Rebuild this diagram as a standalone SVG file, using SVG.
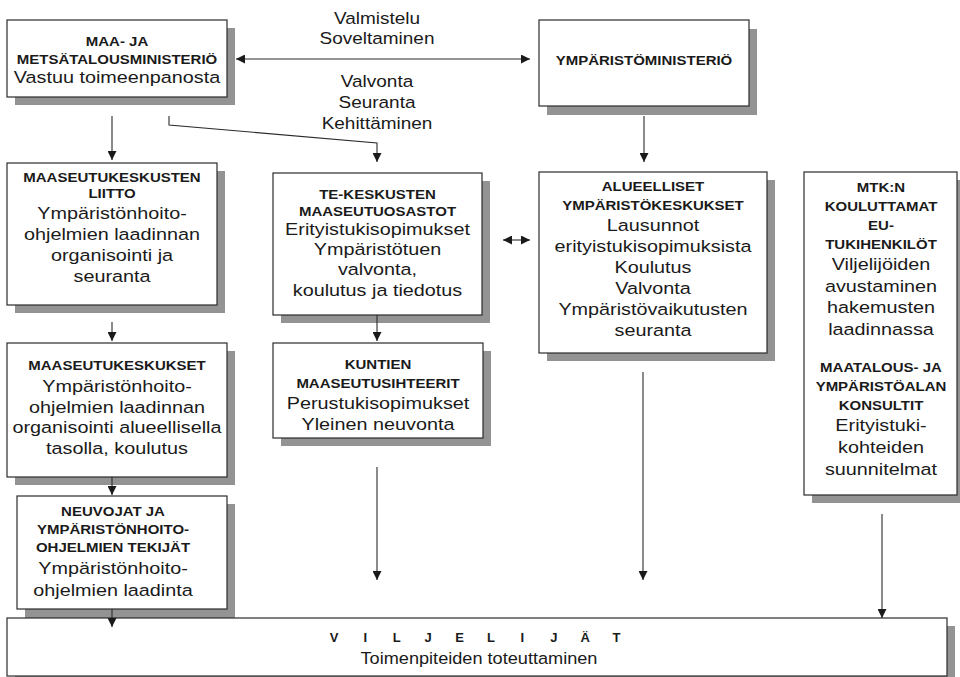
<svg xmlns="http://www.w3.org/2000/svg" width="960" height="677" viewBox="0 0 960 677">
<style>
.box{fill:#fff;stroke:#2b2b2b;stroke-width:1.2}
.sh{fill:#939393}
.b{font-family:"Liberation Sans",Arial,sans-serif;font-weight:bold;font-size:12.5px;fill:#1a1a1a;text-anchor:middle}
.r{font-family:"Liberation Sans",Arial,sans-serif;font-size:16.5px;fill:#1a1a1a;text-anchor:middle}
.c{fill:none;stroke:#2b2b2b;stroke-width:1.1}
.a{marker-end:url(#ah)}
.d{marker-start:url(#ah);marker-end:url(#ah)}
</style>
<defs>
<marker id="ah" viewBox="0 0 10 10" refX="10" refY="5" markerWidth="9" markerHeight="9" markerUnits="userSpaceOnUse" orient="auto-start-reverse">
<path d="M0,0 L10,5 L0,10 z" fill="#1a1a1a"/>
</marker>
</defs>
<rect width="960" height="677" fill="#fff"/>

<g id="mmm">
<rect class="sh" x="15" y="28" width="220" height="77"/>
<rect class="box" x="7" y="20" width="220" height="77"/>
<g transform="translate(117 0) scale(1.2 1)">
<text class="b" x="0" y="46.5">MAA- JA</text>
<text class="b" x="0" y="64">METSÄTALOUSMINISTERIÖ</text>
<text class="r" x="0" y="83">Vastuu toimeenpanosta</text>
</g>
</g>

<g id="ym">
<rect class="sh" x="547" y="29" width="210" height="86"/>
<rect class="box" x="539" y="20" width="210" height="86"/>
<g transform="translate(644 0) scale(1.2 1)">
<text class="b" x="0" y="65.5">YMPÄRISTÖMINISTERIÖ</text>
</g>
</g>

<g id="liitto">
<rect class="sh" x="15" y="171" width="210" height="142"/>
<rect class="box" x="7" y="163" width="210" height="142"/>
<g transform="translate(112 0) scale(1.2 1)">
<text class="b" x="0" y="182">MAASEUTUKESKUSTEN</text>
<text class="b" x="0" y="198.5">LIITTO</text>
<text class="r" x="0" y="219">Ympäristönhoito-</text>
<text class="r" x="0" y="240">ohjelmien laadinnan</text>
<text class="r" x="0" y="261">organisointi ja</text>
<text class="r" x="0" y="282">seuranta</text>
</g>
</g>

<g id="te">
<rect class="sh" x="281" y="181" width="209" height="142"/>
<rect class="box" x="273" y="173" width="209" height="142"/>
<g transform="translate(377.5 0) scale(1.2 1)">
<text class="b" x="0" y="199">TE-KESKUSTEN</text>
<text class="b" x="0" y="216">MAASEUTUOSASTOT</text>
<text class="r" x="0" y="235">Erityistukisopimukset</text>
<text class="r" x="0" y="255.5">Ympäristötuen</text>
<text class="r" x="0" y="275.5">valvonta,</text>
<text class="r" x="0" y="296.5">koulutus ja tiedotus</text>
</g>
</g>

<g id="alueelliset">
<rect class="sh" x="547" y="180" width="228" height="181"/>
<rect class="box" x="539" y="172" width="228" height="181"/>
<g transform="translate(653 0) scale(1.2 1)">
<text class="b" x="0" y="191.5">ALUEELLISET</text>
<text class="b" x="0" y="210">YMPÄRISTÖKESKUKSET</text>
<text class="r" x="0" y="231.5">Lausunnot</text>
<text class="r" x="0" y="252">erityistukisopimuksista</text>
<text class="r" x="0" y="273">Koulutus</text>
<text class="r" x="0" y="294">Valvonta</text>
<text class="r" x="0" y="315">Ympäristövaikutusten</text>
<text class="r" x="0" y="336">seuranta</text>
</g>
</g>

<g id="mtk">
<rect class="sh" x="812" y="180" width="153" height="323"/>
<rect class="box" x="804" y="172" width="153" height="323"/>
<g transform="translate(881 0) scale(1.2 1)">
<text class="b" x="0" y="192">MTK:N</text>
<text class="b" x="0" y="211">KOULUTTAMAT</text>
<text class="b" x="0" y="230">EU-</text>
<text class="b" x="0" y="249">TUKIHENKILÖT</text>
<text class="r" x="0" y="270.5">Viljelijöiden</text>
<text class="r" x="0" y="292">avustaminen</text>
<text class="r" x="0" y="313">hakemusten</text>
<text class="r" x="0" y="335">laadinnassa</text>
<text class="b" x="0" y="372">MAATALOUS- JA</text>
<text class="b" x="0" y="391">YMPÄRISTÖALAN</text>
<text class="b" x="0" y="410">KONSULTIT</text>
<text class="r" x="0" y="431">Erityistuki-</text>
<text class="r" x="0" y="453">kohteiden</text>
<text class="r" x="0" y="475">suunnitelmat</text>
</g>
</g>

<g id="mk">
<rect class="sh" x="15" y="351" width="220" height="134"/>
<rect class="box" x="7" y="343" width="220" height="134"/>
<g transform="translate(117 0) scale(1.2 1)">
<text class="b" x="0" y="370">MAASEUTUKESKUKSET</text>
<text class="r" x="0" y="392">Ympäristönhoito-</text>
<text class="r" x="0" y="413">ohjelmien laadinnan</text>
<text class="r" x="0" y="433.5">organisointi alueellisella</text>
<text class="r" x="0" y="454">tasolla, koulutus</text>
</g>
</g>

<g id="kuntien">
<rect class="sh" x="281" y="351" width="210" height="95"/>
<rect class="box" x="273" y="343" width="210" height="95"/>
<g transform="translate(378 0) scale(1.2 1)">
<text class="b" x="0" y="369">KUNTIEN</text>
<text class="b" x="0" y="388">MAASEUTUSIHTEERIT</text>
<text class="r" x="0" y="409">Perustukisopimukset</text>
<text class="r" x="0" y="430.5">Yleinen neuvonta</text>
</g>
</g>

<g id="neuvojat">
<rect class="sh" x="25" y="504" width="210" height="114"/>
<rect class="box" x="17" y="496" width="210" height="113"/>
<g transform="translate(113 0) scale(1.2 1)">
<text class="b" x="0" y="516.5">NEUVOJAT JA</text>
<text class="b" x="0" y="534.5">YMPÄRISTÖNHOITO-</text>
<text class="b" x="0" y="552.5">OHJELMIEN TEKIJÄT</text>
<text class="r" x="0" y="574.5">Ympäristönhoito-</text>
<text class="r" x="0" y="596">ohjelmien laadinta</text>
</g>
</g>

<g id="viljelijat">
<rect class="sh" x="15" y="626" width="940" height="60"/>
<rect class="box" x="7" y="618" width="940" height="58"/>
<text class="b" style="font-size:13px" x="334 365.4 396.8 428.2 459.6 491 522.4 553.8 585.2 616.6" y="642">VILJELIJÄT</text>
<g transform="translate(479 0) scale(1.1 1)">
<text class="r" x="0" y="664">Toimenpiteiden toteuttaminen</text>
</g>
</g>

<g id="connectors">
<line class="c d" x1="236" y1="59" x2="530" y2="59"/>
<line class="c a" x1="112" y1="116" x2="112" y2="160"/>
<polyline class="c a" points="169,116 169,125 377,143 377,162"/>
<line class="c a" x1="644" y1="116" x2="644" y2="162"/>
<line class="c d" x1="503" y1="240" x2="530" y2="240"/>
<line class="c a" x1="112" y1="322" x2="112" y2="341"/>
<line class="c a" x1="112" y1="477" x2="112" y2="495"/>
<line class="c a" x1="112" y1="609" x2="112" y2="627"/>
<line class="c a" x1="377" y1="315" x2="377" y2="341"/>
<line class="c a" x1="377" y1="467" x2="377" y2="580"/>
<line class="c a" x1="643" y1="372" x2="643" y2="580"/>
<line class="c a" x1="882" y1="514" x2="882" y2="618"/>
<g id="labels" transform="translate(377 0) scale(1.15 1)">
<text class="r" x="0" y="24">Valmistelu</text>
<text class="r" x="0" y="44">Soveltaminen</text>
<text class="r" x="0" y="87.5">Valvonta</text>
<text class="r" x="0" y="108.5">Seuranta</text>
<text class="r" x="0" y="129">Kehittäminen</text>
</g>
</g>
</svg>
